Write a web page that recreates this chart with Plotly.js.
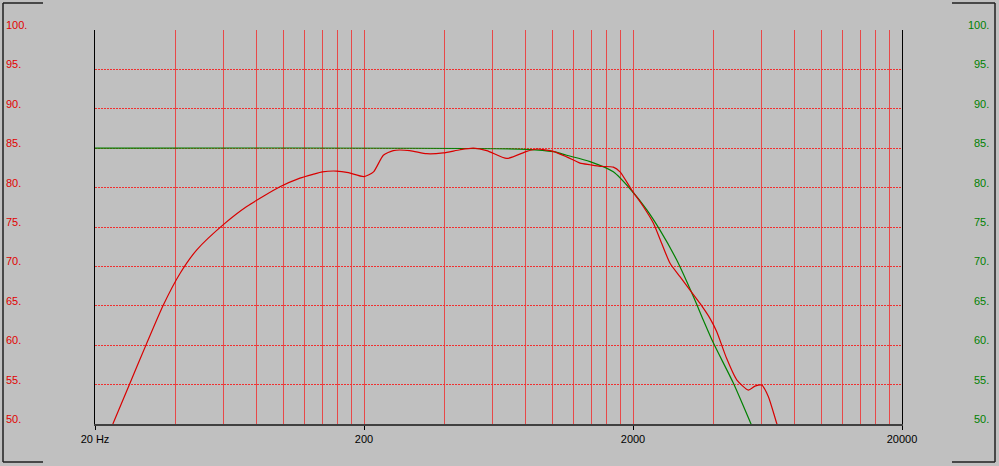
<!DOCTYPE html>
<html>
<head>
<meta charset="utf-8">
<script src="https://cdn.plot.ly/plotly-3.0.1.min.js"></script>
<style>
html,body{margin:0;padding:0;background:#c0c0c0;}
#chart{width:999px;height:466px;}
</style>
</head>
<body>
<div id="chart"></div>
<script>
// ---- data ----
const redFreq = [23.3, 27, 31.1, 35.9, 41.4, 47.8, 60, 73.3, 97.4, 115.6, 129.6, 140, 158, 175, 200, 217, 236, 257, 296, 342, 394, 455, 510, 572, 679, 805, 878, 1011, 1134, 1271, 1384, 1508, 1690, 1790, 1978, 2184, 2380, 2558, 2746, 2990, 3258, 3550, 3865, 4096, 4460, 4860, 5368, 5680, 6016, 6368, 6842, 7100];
const redDb   = [50.0, 55.2, 60.2, 65.1, 69.1, 72.1, 75.3, 77.6, 80.1, 81.2, 81.7, 82.0, 82.1, 81.9, 81.4, 82.0, 84.1, 84.7, 84.7, 84.3, 84.4, 84.8, 85.0, 84.7, 83.7, 84.6, 84.9, 84.6, 83.9, 83.1, 82.9, 82.7, 82.6, 82.0, 79.7, 77.6, 75.5, 72.9, 70.4, 68.7, 67.0, 65.3, 63.4, 61.7, 58.3, 55.6, 54.3, 54.8, 54.95, 53.5, 50.1, 48.5];

const greenFreq = [20, 806, 1011, 1134, 1384, 1690, 1978, 2248, 2520, 2908, 3350, 3650, 3977, 4720, 5477, 6000];
const greenDb   = [85.0, 84.86, 84.56, 84.1, 83.3, 82.0, 79.6, 77.2, 74.6, 70.8, 66.2, 63.2, 60.3, 55.2, 50.1, 46.9];

const xTickVals = [20, 200, 2000, 20000];
const xTickText = ["20 Hz", "200", "2000", "20000"];
const gridFreqs = [40, 60, 80, 100, 120, 140, 160, 180,
                   400, 600, 800, 1000, 1200, 1400, 1600, 1800,
                   4000, 6000, 8000, 10000, 12000, 14000, 16000, 18000];
const yTickVals = [50, 55, 60, 65, 70, 75, 80, 85, 90, 95, 100];
const yTickText = ["50.", "55.", "60.", "65.", "70.", "75.", "80.", "85.", "90.", "95.", "100."];

// ---- layout helpers ----
const ML = 95, MR = 97, MT = 30, MB = 42, W = 999, H = 466;
const PW = W - ML - MR, PH = H - MT - MB;
const px = x => (x - ML) / PW;
const py = y => (H - MB - y) / PH;
const FONT = "Liberation Sans, Arial, sans-serif";

const traces = [
  {x: greenFreq, y: greenDb, type: 'scatter', mode: 'lines',
   line: {color: '#008000', width: 1.2, shape: 'spline', smoothing: 0.7}, hoverinfo: 'skip'},
  {x: redFreq, y: redDb, type: 'scatter', mode: 'lines',
   line: {color: '#d80000', width: 1.2, shape: 'spline', smoothing: 0.6}, hoverinfo: 'skip'}
];

const bracketColor = '#202020';
function seg(x0, y0, x1, y1) {
  return {type: 'line', xref: 'paper', yref: 'paper',
          x0: px(x0), y0: py(y0), x1: px(x1), y1: py(y1),
          line: {color: bracketColor, width: 1.5}};
}
const shapes = [
  seg(3, 3, 3, 462), seg(3, 3, 43, 3), seg(3, 462, 43, 462),
  seg(995, 3, 995, 462), seg(952, 3, 995, 3), seg(952, 462, 995, 462)
];

const annotations = [];
yTickVals.forEach((v, i) => {
  annotations.push({xref: 'paper', yref: 'y', x: px(4), y: v, xanchor: 'left', yanchor: 'middle',
    yshift: 5, text: yTickText[i], showarrow: false, font: {family: FONT, size: 11, color: '#e00000'}});
  annotations.push({xref: 'paper', yref: 'y', x: px(991), y: v, xanchor: 'right', yanchor: 'middle',
    yshift: 5, text: yTickText[i], showarrow: false, font: {family: FONT, size: 11, color: '#008000'}});
});

const gridV = '#e84848';
const layout = {
  width: W, height: H,
  margin: {l: ML, r: MR, t: MT, b: MB, pad: 0},
  paper_bgcolor: '#c0c0c0', plot_bgcolor: '#c0c0c0',
  showlegend: false,
  xaxis: {
    type: 'log', range: [Math.log10(20), Math.log10(20000)],
    tickmode: 'array', tickvals: xTickVals, ticktext: xTickText,
    ticks: 'outside', ticklen: 4, tickcolor: '#000', tickwidth: 1,
    tickfont: {family: FONT, size: 11, color: '#000'},
    showgrid: true, gridcolor: gridV, gridwidth: 1,
    minor: {tickmode: 'array', tickvals: gridFreqs, showgrid: true, gridcolor: gridV, gridwidth: 1, ticks: ''},
    showline: true, linecolor: '#404040', linewidth: 2, zeroline: false, fixedrange: true
  },
  yaxis: {
    range: [50, 100], tickmode: 'array', tickvals: yTickVals,
    showticklabels: false, ticks: '',
    showgrid: true, gridcolor: '#f03030', griddash: '2px,1px', gridwidth: 1,
    showline: true, linecolor: '#000', linewidth: 1, mirror: true, zeroline: false, fixedrange: true
  },
  shapes: shapes,
  annotations: annotations
};

Plotly.newPlot('chart', traces, layout, {staticPlot: true, displayModeBar: false});
</script>
</body>
</html>
